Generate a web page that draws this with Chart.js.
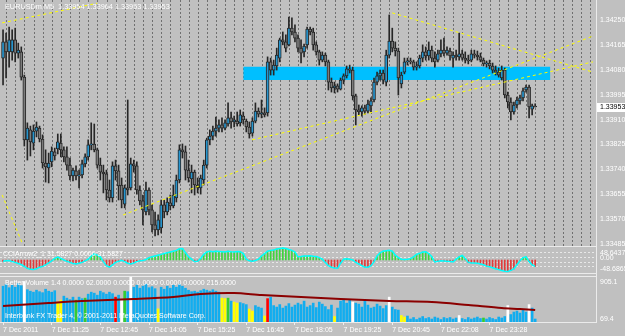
<!DOCTYPE html>
<html>
<head>
<meta charset="utf-8">
<script src="https://cdn.jsdelivr.net/npm/chart.js@4.4.1/dist/chart.umd.min.js"></script>
<style>
  body { margin: 0; background: #c0c0c0; width: 625px; height: 336px; overflow: hidden; position: relative;
         font-family: "Liberation Sans", Arial, sans-serif; }
  canvas { position: absolute; left: 0; }
  .lbl { position: absolute; color: #fff; font-size: 7px; line-height: 8px; white-space: nowrap; }
  .hline { position: absolute; left: 0; width: 597px; height: 1px; background: #ebebeb; }
  .vline { position: absolute; top: 0; left: 596px; width: 1px; height: 323px; background: #ebebeb; }
</style>
</head>
<body>
<canvas id="main" width="625" height="246" style="top:0"></canvas>
<canvas id="cci" width="625" height="26" style="top:247px"></canvas>
<canvas id="vol" width="625" height="59" style="top:277px"></canvas>

<div class="hline" style="top:246px"></div>
<div class="hline" style="top:273px"></div>
<div class="hline" style="top:276px"></div>
<div class="vline"></div>

<div class="lbl" style="left:5px;top:3px;font-size:7.3px">EURUSDm,M5&nbsp; 1.33954 1.33964 1.33953 1.33953</div>
<div class="lbl" style="left:3px;top:250px">CCIArrow2_1 31.5827 0.0000 31.5827</div>
<div class="lbl" style="left:5px;top:279px">Better Volume 1.4 0.0000 62.0000 0.0000 0.0000 0.0000 0.0000 215.0000</div>
<div class="lbl" style="left:5px;top:312px">Interbank FX Trader 4, © 2001-2011 MetaQuotes Software Corp.</div>
<div class="lbl" style="left:600px;top:249px">48.6437</div>
<div class="lbl" style="left:600px;top:254px">0.00</div>
<div class="lbl" style="left:600px;top:265px">-48.6865</div>
<div class="lbl" style="left:600px;top:278px">905.1</div>
<div class="lbl" style="left:600px;top:315px">69.4</div>

<script>
// EURUSD M5 candles, 7 Dec 2011
const opens = [
  1.34120, 1.34175, 1.34141, 1.34141, 1.34182, 1.34137, 1.34141, 1.34055, 1.33841, 1.33875,
  1.33830, 1.33871, 1.33881, 1.33844, 1.33762, 1.33745, 1.33766, 1.33800, 1.33810, 1.33830,
  1.33807, 1.33783, 1.33755, 1.33718, 1.33735, 1.33718, 1.33721, 1.33759, 1.33783, 1.33824,
  1.33827, 1.33807, 1.33755, 1.33731, 1.33725, 1.33670, 1.33643, 1.33752, 1.33735, 1.33687,
  1.33622, 1.33677, 1.33677, 1.33759, 1.33752, 1.33670, 1.33633, 1.33595, 1.33670, 1.33602,
  1.33551, 1.33534, 1.33541, 1.33619, 1.33595, 1.33626, 1.33616, 1.33643, 1.33704, 1.33807,
  1.33800, 1.33738, 1.33708, 1.33731, 1.33687, 1.33677, 1.33704, 1.33755, 1.33841, 1.33854,
  1.33871, 1.33881, 1.33892, 1.33881, 1.33895, 1.33916, 1.33902, 1.33905, 1.33899, 1.33922,
  1.33905, 1.33885, 1.33864, 1.33905, 1.33939, 1.33929, 1.33933, 1.33933, 1.34107, 1.34079,
  1.34093, 1.34120, 1.34182, 1.34175, 1.34165, 1.34222, 1.34209, 1.34188, 1.34154, 1.34141,
  1.34165, 1.34219, 1.34209, 1.34165, 1.34141, 1.34113, 1.34130, 1.34107, 1.34038, 1.34018,
  1.34025, 1.34014, 1.34045, 1.34059, 1.34083, 1.34079, 1.33991, 1.33943, 1.33936, 1.33950,
  1.33939, 1.33957, 1.33977, 1.34038, 1.34059, 1.34069, 1.34038, 1.34130, 1.34178, 1.34154,
  1.34144, 1.34032, 1.34072, 1.34107, 1.34110, 1.34107, 1.34089, 1.34093, 1.34120, 1.34141,
  1.34127, 1.34147, 1.34120, 1.34113, 1.34134, 1.34147, 1.34137, 1.34144, 1.34120, 1.34130,
  1.34124, 1.34134, 1.34120, 1.34113, 1.34113, 1.34134, 1.34130, 1.34124, 1.34113, 1.34100,
  1.34103, 1.34093, 1.34079, 1.34072, 1.34052, 1.34079, 1.33994, 1.33970, 1.33936, 1.33960,
  1.33974, 1.33984, 1.34011, 1.34021, 1.33946, 1.33954
]
const highs = [
  1.34216, 1.34205, 1.34226, 1.34216, 1.34222, 1.34171, 1.34158, 1.34062, 1.33899, 1.33888,
  1.33892, 1.33902, 1.33888, 1.33858, 1.33807, 1.33796, 1.33817, 1.33813, 1.33861, 1.33861,
  1.33817, 1.33817, 1.33779, 1.33745, 1.33752, 1.33738, 1.33772, 1.33793, 1.33841, 1.33899,
  1.33895, 1.33813, 1.33779, 1.33755, 1.33738, 1.33704, 1.33766, 1.33772, 1.33755, 1.33711,
  1.33687, 1.33977, 1.33779, 1.33772, 1.33766, 1.33684, 1.33653, 1.33697, 1.33677, 1.33619,
  1.33595, 1.33585, 1.33636, 1.33636, 1.33643, 1.33653, 1.33687, 1.33721, 1.33824, 1.33827,
  1.33820, 1.33772, 1.33755, 1.33738, 1.33711, 1.33721, 1.33772, 1.33847, 1.33875, 1.33888,
  1.33919, 1.33909, 1.33916, 1.33909, 1.33967, 1.33936, 1.33922, 1.33936, 1.33943, 1.33936,
  1.33912, 1.33902, 1.33916, 1.33967, 1.33950, 1.33977, 1.33950, 1.34124, 1.34120, 1.34113,
  1.34154, 1.34188, 1.34209, 1.34199, 1.34260, 1.34257, 1.34233, 1.34199, 1.34182, 1.34168,
  1.34226, 1.34226, 1.34222, 1.34175, 1.34147, 1.34141, 1.34137, 1.34113, 1.34052, 1.34038,
  1.34032, 1.34052, 1.34066, 1.34093, 1.34096, 1.34089, 1.33997, 1.33960, 1.33957, 1.33960,
  1.33977, 1.33984, 1.34052, 1.34072, 1.34079, 1.34079, 1.34147, 1.34267, 1.34222, 1.34175,
  1.34154, 1.34072, 1.34120, 1.34120, 1.34120, 1.34113, 1.34107, 1.34130, 1.34165, 1.34158,
  1.34175, 1.34161, 1.34141, 1.34147, 1.34182, 1.34188, 1.34158, 1.34154, 1.34141, 1.34147,
  1.34205, 1.34147, 1.34141, 1.34130, 1.34147, 1.34147, 1.34144, 1.34137, 1.34120, 1.34110,
  1.34113, 1.34103, 1.34093, 1.34086, 1.34093, 1.34086, 1.34004, 1.33984, 1.33970, 1.33987,
  1.33994, 1.34018, 1.34028, 1.34028, 1.33963, 1.33964
]
const lows = [
  1.34028, 1.34052, 1.34089, 1.34113, 1.34107, 1.34120, 1.34045, 1.33820, 1.33772, 1.33786,
  1.33807, 1.33851, 1.33834, 1.33745, 1.33697, 1.33694, 1.33749, 1.33772, 1.33793, 1.33783,
  1.33766, 1.33738, 1.33704, 1.33701, 1.33704, 1.33677, 1.33711, 1.33749, 1.33772, 1.33807,
  1.33800, 1.33745, 1.33704, 1.33660, 1.33636, 1.33629, 1.33629, 1.33704, 1.33636, 1.33609,
  1.33609, 1.33653, 1.33670, 1.33731, 1.33656, 1.33619, 1.33551, 1.33585, 1.33585, 1.33527,
  1.33513, 1.33517, 1.33524, 1.33575, 1.33585, 1.33602, 1.33609, 1.33629, 1.33694, 1.33779,
  1.33704, 1.33697, 1.33660, 1.33653, 1.33660, 1.33656, 1.33687, 1.33745, 1.33824, 1.33841,
  1.33854, 1.33868, 1.33868, 1.33875, 1.33888, 1.33881, 1.33885, 1.33888, 1.33888, 1.33895,
  1.33868, 1.33847, 1.33854, 1.33899, 1.33919, 1.33916, 1.33919, 1.33922, 1.34062, 1.34062,
  1.34079, 1.34107, 1.34165, 1.34141, 1.34161, 1.34199, 1.34175, 1.34141, 1.34103, 1.34124,
  1.34154, 1.34199, 1.34147, 1.34130, 1.34096, 1.34107, 1.34093, 1.34011, 1.34004, 1.34001,
  1.34004, 1.34011, 1.34032, 1.34052, 1.34069, 1.33977, 1.33892, 1.33926, 1.33922, 1.33929,
  1.33933, 1.33936, 1.33970, 1.34028, 1.34045, 1.34032, 1.34025, 1.34120, 1.34141, 1.34127,
  1.33994, 1.34018, 1.34066, 1.34096, 1.34100, 1.34079, 1.34079, 1.34086, 1.34107, 1.34113,
  1.34113, 1.34107, 1.34089, 1.34107, 1.34124, 1.34127, 1.34130, 1.34113, 1.34089, 1.34113,
  1.34113, 1.34113, 1.34103, 1.34100, 1.34107, 1.34120, 1.34113, 1.34107, 1.34093, 1.34089,
  1.34083, 1.34069, 1.34062, 1.34055, 1.34045, 1.33984, 1.33950, 1.33909, 1.33929, 1.33950,
  1.33963, 1.33974, 1.34004, 1.33916, 1.33926, 1.33953
]
const closes = [
  1.34175, 1.34141, 1.34182, 1.34182, 1.34137, 1.34147, 1.34055, 1.33841, 1.33881, 1.33834,
  1.33871, 1.33885, 1.33844, 1.33762, 1.33749, 1.33762, 1.33803, 1.33786, 1.33834, 1.33807,
  1.33783, 1.33755, 1.33718, 1.33738, 1.33718, 1.33721, 1.33759, 1.33783, 1.33824, 1.33827,
  1.33807, 1.33755, 1.33731, 1.33725, 1.33670, 1.33643, 1.33752, 1.33735, 1.33684, 1.33636,
  1.33677, 1.33670, 1.33759, 1.33752, 1.33670, 1.33633, 1.33602, 1.33670, 1.33602, 1.33551,
  1.33534, 1.33568, 1.33619, 1.33595, 1.33629, 1.33616, 1.33653, 1.33704, 1.33807, 1.33800,
  1.33738, 1.33711, 1.33731, 1.33687, 1.33677, 1.33711, 1.33755, 1.33841, 1.33854, 1.33871,
  1.33881, 1.33892, 1.33881, 1.33899, 1.33916, 1.33902, 1.33909, 1.33895, 1.33926, 1.33909,
  1.33885, 1.33861, 1.33905, 1.33939, 1.33929, 1.33933, 1.33926, 1.34107, 1.34079, 1.34096,
  1.34130, 1.34182, 1.34175, 1.34154, 1.34222, 1.34209, 1.34188, 1.34154, 1.34137, 1.34161,
  1.34219, 1.34209, 1.34165, 1.34141, 1.34113, 1.34130, 1.34107, 1.34038, 1.34018, 1.34025,
  1.34014, 1.34045, 1.34059, 1.34083, 1.34079, 1.33991, 1.33943, 1.33936, 1.33950, 1.33939,
  1.33963, 1.33974, 1.34038, 1.34059, 1.34069, 1.34045, 1.34130, 1.34178, 1.34154, 1.34144,
  1.34052, 1.34062, 1.34107, 1.34110, 1.34107, 1.34089, 1.34093, 1.34120, 1.34141, 1.34127,
  1.34147, 1.34120, 1.34107, 1.34134, 1.34147, 1.34137, 1.34147, 1.34127, 1.34130, 1.34124,
  1.34134, 1.34120, 1.34113, 1.34110, 1.34134, 1.34130, 1.34124, 1.34113, 1.34100, 1.34103,
  1.34093, 1.34079, 1.34072, 1.34062, 1.34079, 1.33994, 1.33970, 1.33936, 1.33960, 1.33977,
  1.33984, 1.34008, 1.34021, 1.33953, 1.33957, 1.33953
]

// CCI indicator values per bar
const cci = [
  -5, -3, -2, -6, -9, -13, -17, -24, -31, -35,
  -36, -33, -27, -24, -18, -11, -3, 6, 11, 6,
  0, -5, -9, -13, -15, -12, -9, -3, 3, 15,
  23, 18, 12, -6, -21, -27, -18, -9, -5, -1,
  -6, -12, -15, -11, -6, -3, -2, 2, 9, 12,
  15, 18, 21, 24, 27, 30, 33, 36, 42, 43,
  27, 12, 3, -6, -5, 6, 21, 30, 33, 31,
  33, 32, 31, 30, 33, 31, 30, 32, 31, 24,
  3, -3, -5, -2, 3, 15, 24, 33, 36, 37,
  41, 43, 45, 43, 39, 36, 30, 12, 13, 15,
  15, 16, 14, 13, 9, 3, -9, -21, -27, -30,
  -31, -12, 3, 5, 3, 0, -9, -15, -21, -27,
  -27, -21, -6, 15, 27, 33, 35, 36, 33, 18,
  9, 3, 2, 3, 5, 12, 21, 25, 30, 31,
  24, 12, -7, -5, -3, -4, -5, -6, -7, 3,
  12, 17, 6, -9, -11, -11, -12, -15, -18, -23,
  -25, -29, -33, -36, -39, -42, -43, -39, -33, -18,
  -3, 9, 12, -6, -18, -24
]
const cciLevels = [28, 10, -8, -25]

// Better Volume histogram
const volumes = [
  720, 760, 690, 740, 700, 770, 730, 815, 650, 620,
  600, 640, 610, 590, 660, 620, 600, 630, 400, 440,
  520, 480, 450, 500, 440, 500, 470, 480, 560, 600,
  580, 540, 620, 590, 560, 600, 570, 500, 540, 440,
  620, 610, 905, 700, 740, 680, 720, 760, 690, 710,
  670, 264, 700, 660, 720, 680, 740, 700, 760, 720,
  680, 640, 610, 620, 600, 630, 660, 640, 620, 650,
  620, 600, 480, 470, 480, 420, 400, 380, 390, 370,
  350, 260, 220, 330, 300, 280, 120, 470, 500, 330,
  300, 350, 280, 320, 370, 300, 340, 380, 350, 420,
  300, 330, 380, 290, 400, 360, 310, 250, 340, 110,
  280, 420, 460, 380, 440, 400, 380, 360, 300, 420,
  340, 280, 300, 360, 320, 270, 330, 500, 300, 250,
  240, 130, 100, 120, 60, 90, 50, 80, 110, 70,
  90, 60, 100, 80, 50, 90, 70, 90, 60, 80,
  130, 70, 50, 90, 60, 80, 100, 70, 80, 60,
  90, 70, 50, 100, 80, 110, 330, 150, 200, 220,
  180, 240, 200, 350, 280, 60
]
const whiteBars = [7, 39, 42, 115, 127, 150, 166, 173]
const yellowBars = [18, 19, 51, 72, 73, 76, 77, 81, 82, 86, 109, 131, 132]
const greenBars = [24, 27, 40, 74, 158]
const redBars = [37, 87]
const maIdx = [0, 15, 26, 43, 56, 65, 76, 85, 98, 111, 127, 141, 153, 164, 170, 175]
const maVals = [322, 382, 422, 462, 503, 565, 583, 543, 503, 462, 422, 402, 342, 281, 261, 241]

// price axis and time axis
const priceTicks = [1.34250, 1.34165, 1.34080, 1.33995, 1.33910, 1.33825, 1.33740, 1.33655, 1.33570, 1.33485]
const timeIdx = [0, 16, 32, 48, 64, 80, 96, 112, 128, 144, 160]
const timeLabels = ['7 Dec 2011', '7 Dec 11:25', '7 Dec 12:45', '7 Dec 14:05', '7 Dec 15:25', '7 Dec 16:45',
  '7 Dec 18:05', '7 Dec 19:25', '7 Dec 20:45', '7 Dec 22:08', '7 Dec 23:28']

// objects drawn on the chart
const trendStart = [[-0.3, 1.34240], [-0.3, 1.33653], [39.5, 1.33585], [81.9, 1.33841], [128, 1.34274]]
const trendEnd = [[31, 1.34307], [6.3, 1.33489], [194, 1.34195], [194, 1.34107], [194, 1.34072]]
const rectFrom = 79, rectTo = 180, rectHigh = 1.34090, rectLow = 1.34045

const xMin = -1, xMax = 195
const font = { family: '"Liberation Sans", Arial, sans-serif', size: 7 }
Chart.defaults.font = font

const gridIdx = []
for (let v = 1.2; v < xMax; v += 3) gridIdx.push(v)

const bull = '#2796cf', bear = '#7c7c7c', edge = '#262626'

const xHidden = {
  type: 'linear', min: xMin, max: xMax, offset: false, display: false,
  grid: { offset: false }
}
const rightAxis = (extra) => Object.assign({
  position: 'right',
  beginAtZero: false,
  afterFit: s => { s.width = 29; s.paddingTop = 0; s.paddingBottom = 0 }
}, extra)

const priceTag = {
  id: 'priceTag',
  afterDraw(chart) {
    const last = closes[closes.length - 1]
    const y = Math.round(chart.scales.y.getPixelForValue(last))
    const c = chart.ctx
    c.save()
    c.fillStyle = '#ffffff'
    c.fillRect(597, y - 4, 28, 9)
    c.fillStyle = '#000000'
    c.font = '7px "Liberation Sans"'
    c.textBaseline = 'middle'
    c.fillText(last.toFixed(5), 600, y + 0.5)
    c.restore()
  }
}

const trendSets = trendStart.map((s, k) => ({
  type: 'line',
  data: [{ x: s[0], y: s[1] }, { x: trendEnd[k][0], y: trendEnd[k][1] }],
  borderColor: '#ffff00', borderWidth: 1, borderDash: [3, 3],
  pointRadius: 0, fill: false, order: 0
}))

new Chart(document.getElementById('main'), {
  type: 'bar',
  data: {
    datasets: [
      {
        type: 'line',
        data: [{ x: rectFrom, y: rectHigh }, { x: rectTo, y: rectHigh }],
        borderWidth: 0, pointRadius: 0, fill: false, order: 10
      },
      {
        type: 'line',
        data: [{ x: rectFrom, y: rectLow }, { x: rectTo, y: rectLow }],
        borderWidth: 0, pointRadius: 0, fill: '-1', backgroundColor: '#00bfff', order: 9
      },
      {
        data: highs.map((h, i) => ({ x: i, y: [lows[i], h] })),
        backgroundColor: edge, barThickness: 1, grouped: false, order: 5
      },
      {
        data: opens.map((o, i) => ({ x: i, y: [o, closes[i]] })),
        backgroundColor: ctx => closes[ctx.dataIndex] >= opens[ctx.dataIndex] ? bull : bear,
        borderColor: edge, borderWidth: 1, borderSkipped: false,
        barThickness: 3, minBarLength: 1, grouped: false, order: 4
      },
      ...trendSets
    ]
  },
  options: {
    responsive: false,
    animation: false,
    layout: { padding: 0 },
    plugins: { legend: { display: false }, tooltip: { enabled: false } },
    scales: {
      x: {
        type: 'linear', min: xMin, max: xMax, offset: false,
        afterBuildTicks: s => { s.ticks = gridIdx.map(v => ({ value: v })) },
        ticks: { display: false },
        grid: { offset: false, color: '#6f6f6f', drawTicks: false },
        border: { display: false, dash: [2, 2] },
        afterFit: s => { s.height = 0 }
      },
      y: rightAxis({
        min: 1.33479, max: 1.34318,
        afterBuildTicks: s => { s.ticks = priceTicks.map(v => ({ value: v })) },
        ticks: { color: '#ffffff', padding: 4, callback: v => v.toFixed(5) },
        grid: { display: false, drawTicks: false },
        border: { display: false }
      })
    }
  },
  plugins: [priceTag]
})

new Chart(document.getElementById('cci'), {
  type: 'bar',
  data: {
    datasets: [
      {
        type: 'line',
        data: cci.map((v, i) => ({ x: i, y: v })),
        borderColor: '#00ffff', borderWidth: 1.5, pointRadius: 0, tension: 0, order: 1
      },
      {
        data: cci.map((v, i) => ({ x: i, y: v })),
        backgroundColor: ctx => cci[ctx.dataIndex] >= 0 ? '#3ed43e' : '#e03a3a',
        barThickness: 1, order: 2
      }
    ]
  },
  options: {
    responsive: false,
    animation: false,
    layout: { padding: 0 },
    plugins: { legend: { display: false }, tooltip: { enabled: false } },
    scales: {
      x: xHidden,
      y: rightAxis({
        min: -48.6865, max: 48.6437,
        afterBuildTicks: s => { s.ticks = cciLevels.map(v => ({ value: v })) },
        ticks: { display: false },
        grid: { color: '#e8e8e8', drawTicks: false },
        border: { display: false, dash: [2, 2] }
      })
    }
  }
})

const volColor = i => whiteBars.includes(i) ? '#ffffff'
  : yellowBars.includes(i) ? '#ffff00'
  : greenBars.includes(i) ? '#32cd32'
  : redBars.includes(i) ? '#ff0000' : '#12adef'

new Chart(document.getElementById('vol'), {
  type: 'bar',
  data: {
    datasets: [
      {
        type: 'line',
        data: maIdx.map((x, k) => ({ x: x, y: maVals[k] })),
        borderColor: '#8b0000', borderWidth: 2, pointRadius: 0, tension: 0.3, order: 0
      },
      {
        data: volumes.map((v, i) => ({ x: i, y: v })),
        backgroundColor: ctx => volColor(ctx.dataIndex),
        barThickness: 2, order: 1
      }
    ]
  },
  options: {
    responsive: false,
    animation: false,
    layout: { padding: 0 },
    plugins: { legend: { display: false }, tooltip: { enabled: false } },
    scales: {
      x: {
        type: 'linear', min: xMin, max: xMax, offset: false,
        afterBuildTicks: s => { s.ticks = timeIdx.map(v => ({ value: v })) },
        ticks: {
          color: '#ffffff', align: 'start', padding: 1, maxRotation: 0, autoSkip: false,
          callback: (v, k) => timeLabels[k]
        },
        grid: { offset: false, drawOnChartArea: false, tickLength: 3, color: '#f0f0f0' },
        border: { display: true, color: '#ebebeb' },
        afterFit: s => { s.height = 14; s.paddingLeft = 0; s.paddingRight = 0 }
      },
      y: rightAxis({
        min: 0, max: 905.1,
        ticks: { display: false },
        grid: { display: false, drawTicks: false },
        border: { display: false }
      })
    }
  }
})
</script>
</body>
</html>
